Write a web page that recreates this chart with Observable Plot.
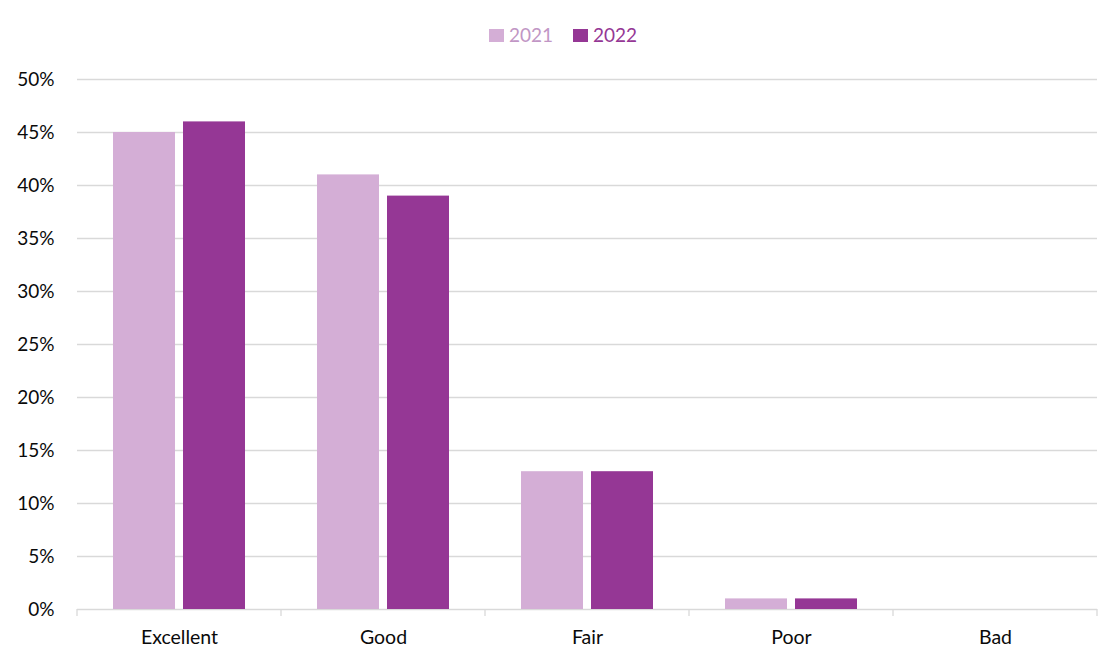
<!DOCTYPE html>
<html>
<head>
<meta charset="utf-8">
<script src="https://cdn.jsdelivr.net/npm/d3@7"></script>
<script src="https://cdn.jsdelivr.net/npm/@observablehq/plot@0.6"></script>
<style>
  html, body { margin: 0; padding: 0; background: #fff; }
  body { width: 1120px; height: 666px; overflow: hidden; font-family: Lato, "Open Sans", sans-serif; }
  #legend { height: 50px; box-sizing: border-box; padding-top: 20px; padding-left: 6px; display: flex; justify-content: center; align-items: center; gap: 20px; font-size: 19px; line-height: 22px; }
  .item { display: flex; align-items: center; gap: 5px; }
  .sw { width: 15px; height: 13px; display: inline-block; }
  #chart svg { display: block; }
</style>
</head>
<body>
<div id="legend"></div>
<div id="chart"></div>
<script>
const categories = ["Excellent", "Good", "Fair", "Poor", "Bad"];
const years = ["2021", "2022"];
const values2021 = [45, 41, 13, 1, 0];
const values2022 = [46, 39, 13, 1, 0];
const seriesColors = ["#d4aed6", "#953795"];
const legendTextColors = ["#c196c5", "#953795"];
const yTicks = [0, 5, 10, 15, 20, 25, 30, 35, 40, 45, 50];

const data = categories.flatMap((c, i) => [
  { category: c, year: years[0], value: values2021[i] },
  { category: c, year: years[1], value: values2022[i] }
]);

// legend
const legend = d3.select("#legend");
years.forEach((y, i) => {
  const it = legend.append("div").attr("class", "item");
  it.append("span").attr("class", "sw").style("background", seriesColors[i]);
  it.append("span").text(y).style("color", legendTextColors[i]);
});

const chart = Plot.plot({
  width: 1120,
  height: 616,
  marginTop: 29,
  marginBottom: 57,
  marginLeft: 77,
  marginRight: 23,
  style: { fontFamily: "Lato, 'Open Sans', sans-serif", fontSize: "19px", color: "#0a0a0a", background: "#fff" },
  fx: { domain: categories, padding: 0, label: null, axis: null },
  x: { domain: years, paddingInner: 0.114, paddingOuter: 0.514, axis: null },
  y: { domain: [0, 50], label: null },
  color: { domain: years, range: seriesColors },
  marks: [
    Plot.gridY(yTicks, { stroke: "#d9d9d9", strokeOpacity: 1, strokeWidth: 1.3 }),
    Plot.axisY(yTicks, { tickSize: 0, tickPadding: 23, tickFormat: d => d + "%", label: null, fontSize: 19 }),
    Plot.axisFx({ anchor: "bottom", tickSize: 0, tickPadding: 21, label: null, fontSize: 19.5 }),
    Plot.barY(data, { fx: "category", x: "year", y: "value", fill: "year" })
  ]
});

document.getElementById("chart").appendChild(chart);

// category boundary tick marks below the baseline, placed with the library's scales
const fx = chart.scale("fx");
const ys = chart.scale("y");
const base = ys.apply(0);
const bounds = categories.map(c => fx.apply(c)).concat([fx.apply(categories[categories.length - 1]) + fx.bandwidth]);
d3.select(chart).append("g")
  .selectAll("line").data(bounds).join("line")
  .attr("x1", d => d).attr("x2", d => d)
  .attr("y1", base).attr("y2", base + 7)
  .attr("stroke", "#d9d9d9").attr("stroke-width", 1.3);
</script>
</body>
</html>
